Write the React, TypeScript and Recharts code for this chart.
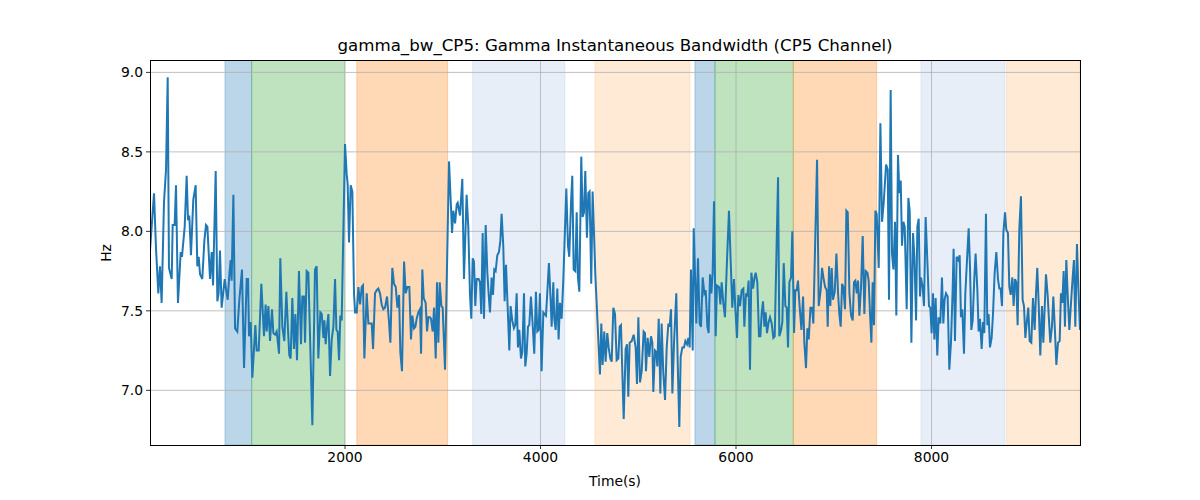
import React from "react";
import { LineChart, Line, XAxis, YAxis, ReferenceArea, ReferenceLine } from "recharts";

// Time (s), Hz pairs, split into segments
const segA: [number, number][] = [
  [5,7.88],[46,8.24],[66,7.90],[90,7.61],[107,7.78],[124,7.55],[148,8.18],[169,8.39],[186,8.97],[199,7.77],
  [227,7.70],[237,8.04],[257,8.04],[271,8.29],[291,7.55],[319,7.87],[332,7.84],[360,8.03],[380,8.35],[394,8.07],
  [407,8.10],[424,7.85],[448,8.20],[472,8.29],[489,7.78],[503,7.84],[517,7.73],[540,7.70],[561,7.94],[578,8.04],
  [592,8.03],[619,7.70],[636,7.87],[650,7.66],[677,8.38],[694,7.56],[707,7.61],[721,7.88],[738,7.52],[769,7.70],
  [789,7.61],[800,7.57],[817,7.73],[830,7.82],[840,7.69],[858,8.23],[875,7.39],[898,7.37],[919,7.57],[946,7.76],
  [967,7.14],[994,7.70],[1008,7.70],[1018,7.34],[1035,7.43],[1052,7.08],[1083,7.41],[1096,7.25],[1117,7.25],[1144,7.67],
  [1171,7.34],[1188,7.54],[1199,7.37],[1216,7.53],[1233,7.31],[1253,7.51],[1267,7.36],[1284,7.35],[1301,7.37],[1325,7.23],
  [1338,7.83],[1359,7.40],[1379,7.31],[1400,7.62],[1417,7.38],[1430,7.22],[1444,7.20],[1461,7.58],[1478,7.26],[1492,7.48],
  [1509,7.19],[1529,7.75],[1550,7.29],[1563,7.59],[1580,7.59],
];
const segB: [number, number][] = [
  [1591,7.30],[1608,7.75],[1625,7.74],[1666,6.78],[1693,7.76],[1710,7.78],[1727,7.20],[1748,7.49],[1762,7.48],[1779,7.33],
  [1789,7.44],[1802,7.29],[1816,7.40],[1830,7.48],[1847,7.09],[1864,7.32],[1881,7.40],[1898,7.70],[1912,7.38],[1925,7.37],
  [1939,7.19],[1952,7.47],[1966,7.44],[2000,8.55],[2017,8.36],[2027,8.30],[2041,7.93],[2058,8.29],[2075,8.25],[2092,7.61],
  [2103,7.49],[2120,7.49],[2137,7.65],[2154,7.54],[2171,7.65],[2184,7.66],[2198,7.20],[2222,7.61],[2239,7.42],[2256,7.42],
  [2273,7.42],[2287,7.26],[2307,7.61],[2324,7.63],[2341,7.64],[2358,7.61],[2375,7.54],[2392,7.51],[2409,7.52],[2430,7.59],
  [2450,7.43],[2464,7.30],[2484,7.77],[2501,7.67],[2519,7.65],[2536,7.52],[2553,7.60],[2566,7.24],[2583,7.12],[2604,7.81],
  [2621,7.61],[2638,7.65],[2658,7.65],[2675,7.32],[2689,7.47],[2706,7.39],[2720,7.40],[2733,7.45],[2750,7.49],[2767,7.51],
  [2778,7.23],[2791,7.76],[2805,7.58],[2825,7.55],[2839,7.37],[2853,7.46],[2870,7.46],[2880,7.45],[2897,7.37],[2911,7.52],
  [2928,7.20],[2941,7.68],[2955,7.30],[2969,7.68],[2986,7.53],[2999,7.52],[3023,7.13],[3064,8.44],[3078,8.24],[3095,7.99],
  [3108,8.13],[3126,8.05],[3143,8.17],[3153,8.18],
];
const segC: [number, number][] = [
  [3176,8.10],[3200,8.33],[3217,7.70],[3244,8.23],[3261,8.03],[3278,7.61],[3292,7.45],[3306,7.83],[3319,7.81],[3333,7.53],
  [3347,7.70],[3367,7.70],[3381,7.68],[3394,7.48],[3408,7.99],[3422,7.45],[3439,8.04],[3456,7.74],[3469,7.61],[3483,7.49],
  [3500,7.71],[3514,7.60],[3527,7.76],[3541,7.75],[3558,7.85],[3575,7.87],[3589,7.94],[3602,8.11],[3619,7.91],[3633,7.56],
  [3647,7.79],[3664,7.52],[3681,7.25],[3694,7.53],[3711,7.44],[3728,7.39],[3742,7.41],[3756,7.61],[3769,7.27],[3783,7.38],
  [3800,7.20],[3814,7.24],[3831,7.61],[3844,7.15],[3858,7.23],[3872,7.40],[3885,7.41],[3902,7.59],[3919,7.42],[3936,7.23],
  [3953,7.62],[3967,7.37],[3981,7.38],[3994,7.61],[4011,7.12],[4029,7.49],[4042,7.48],[4056,7.47],[4069,7.61],[4086,7.80],
  [4104,7.56],[4114,7.40],[4131,7.68],[4141,7.45],[4155,7.38],[4172,7.64],[4185,7.32],[4199,7.55],[4216,7.45],[4233,7.69],
  [4264,8.27],[4281,7.91],[4294,7.84],[4312,8.18],[4325,8.35],[4339,7.76],[4356,7.75],[4370,8.12],[4383,7.71],[4397,7.62],
  [4417,8.47],[4431,8.09],[4445,8.12],[4458,8.38],[4475,7.96],[4489,8.24],[4502,8.25],[4519,7.67],[4533,8.25],[4547,7.99],
  [4560,7.74],[4608,7.10],[4622,7.42],[4635,7.16],[4652,7.37],[4666,7.18],[4683,7.36],[4697,7.27],[4714,7.20],[4728,7.18],
  [4745,7.52],
];
const segD: [number, number][] = [
  [4762,7.48],[4779,7.19],[4796,7.20],[4810,7.40],[4823,7.41],[4851,6.82],[4871,7.26],[4885,7.29],[4898,6.96],[4912,7.30],
  [4933,7.31],[4953,7.35],[4973,7.27],[4987,7.04],[5001,7.46],[5018,7.05],[5035,7.12],[5055,7.37],[5069,7.36],[5079,7.12],
  [5096,7.33],[5113,7.21],[5130,7.34],[5144,7.30],[5154,6.99],[5171,7.25],[5185,7.24],[5195,7.15],[5209,7.45],[5226,6.98],
  [5239,7.42],[5256,7.11],[5274,6.94],[5291,7.27],[5308,7.42],[5321,7.40],[5335,7.51],[5349,6.98],[5366,7.30],[5389,7.61],
  [5403,7.19],[5420,6.77],[5434,7.21],[5451,7.27],[5468,7.27],[5482,7.31],[5499,7.29],[5512,7.33],[5526,7.27],[5539,7.76],
  [5557,7.25],[5567,8.02],[5580,7.74],[5594,7.42],[5611,7.83],[5628,7.42],[5642,7.40],[5659,7.71],[5676,7.61],[5690,7.63],
  [5707,7.40],[5720,7.36],[5734,7.73],[5748,7.61],[5761,7.74],[5775,8.19],[5792,7.34],[5805,7.66],[5826,7.65],[5840,7.54],
  [5853,7.68],[5870,7.55],[5887,7.46],[5908,7.82],[5928,8.13],[5945,7.82],[5962,7.52],[5979,7.70],[5993,7.52],[6010,7.33],
  [6024,7.60],[6041,7.53],[6058,7.63],[6075,7.64],[6085,7.40],[6102,7.61],[6116,7.59],[6129,7.69],[6143,7.13],[6157,7.74],
  [6174,7.64],[6187,7.70],[6201,7.74],[6218,7.68],[6235,7.34],[6249,7.34],[6262,7.48],[6276,7.56],[6290,7.40],[6303,7.49],
  [6317,7.36],[6334,7.43],
];
const segE: [number, number][] = [
  [6348,7.46],[6365,7.42],[6382,7.33],[6396,7.34],[6430,8.34],[6443,7.34],[6461,7.38],[6474,7.43],[6488,7.80],[6505,7.53],
  [6519,7.52],[6532,7.27],[6546,7.68],[6563,7.71],[6576,8.00],[6594,7.36],[6607,7.63],[6621,7.63],[6634,7.69],[6648,7.55],
  [6669,7.38],[6686,7.59],[6699,7.30],[6716,7.14],[6730,7.39],[6744,7.32],[6761,7.52],[6778,7.52],[6791,7.42],[6829,8.45],
  [6846,7.53],[6866,7.63],[6880,7.77],[6894,7.71],[6911,7.65],[6928,7.63],[6938,7.40],[6952,7.78],[6965,7.53],[6979,7.77],
  [6992,7.57],[7010,7.62],[7027,7.86],[7044,7.61],[7057,7.48],[7071,7.40],[7085,7.67],[7098,7.65],[7115,7.51],[7129,8.13],
  [7143,8.12],[7160,7.61],[7177,7.47],[7194,7.44],[7207,7.68],[7221,7.69],[7235,7.61],[7248,7.69],[7262,7.47],[7279,7.65],
  [7296,7.97],[7313,7.48],[7327,7.75],[7344,7.74],[7357,7.69],[7371,7.48],[7385,7.30],[7398,7.68],[7412,7.41],[7426,8.13],
  [7439,8.11],[7460,7.77],[7477,8.68],[7494,8.06],[7511,8.18],[7535,8.42],[7552,8.39],[7565,7.57],[7582,8.89],[7596,7.86],
  [7610,7.76],[7627,8.06],[7640,7.47],[7657,8.48],[7671,8.24],[7685,8.32],[7698,7.91],[7712,8.06],[7726,8.03],[7746,7.51],
  [7763,8.21],[7777,8.13],[7794,7.30],[7811,7.99],[7825,7.84],[7842,7.44],[7855,8.03],[7869,8.08],
];
const segF: [number, number][] = [
  [7882,7.59],[7892,7.71],[7909,7.65],[7923,7.53],[7940,8.09],[7957,7.82],[7974,7.53],[7988,7.52],[8001,7.36],[8015,7.61],
  [8029,7.32],[8042,7.58],[8059,7.22],[8073,7.46],[8090,7.42],[8107,7.71],[8121,7.42],[8134,7.57],[8148,7.61],[8165,7.59],
  [8182,7.13],[8199,7.30],[8216,7.63],[8226,7.89],[8240,7.31],[8257,7.84],[8274,7.82],[8288,7.85],[8301,7.46],[8315,7.51],
  [8332,7.23],[8346,7.61],[8363,7.82],[8380,8.02],[8394,7.77],[8407,7.38],[8421,7.44],[8438,7.71],[8451,7.86],[8469,7.63],
  [8482,7.37],[8496,7.45],[8513,7.26],[8527,7.43],[8540,7.36],[8557,8.11],[8571,7.41],[8584,7.48],[8598,7.27],[8615,7.33],
  [8629,7.48],[8646,7.74],[8663,7.87],[8680,7.70],[8694,7.64],[8707,7.64],[8721,7.53],[8735,7.99],[8752,8.12],[8765,8.01],
  [8782,7.99],[8796,7.65],[8810,7.60],[8827,7.71],[8840,7.53],[8854,7.70],[8867,7.68],[8881,7.41],[8898,8.01],[8915,8.22],
  [8932,7.57],[8946,7.53],[8960,7.33],[8973,7.42],[8990,7.52],[9004,7.31],[9021,7.30],[9038,7.58],[9055,7.38],[9069,7.61],
  [9082,7.77],[9096,7.55],[9113,7.22],[9130,7.53],[9144,7.30],[9161,7.57],[9171,7.73],[9188,7.60],[9202,7.44],[9215,7.30],
  [9232,7.40],[9246,7.59],[9263,7.37],[9277,7.16],[9294,7.30],[9311,7.31],[9324,7.61],[9338,7.55],[9352,7.75],[9365,7.40],
  [9379,7.82],[9396,7.56],[9410,7.38],[9427,7.55],[9444,7.71],[9457,7.82],[9471,7.40],[9488,7.92],[9502,7.65],[9519,7.38],
];

// Shaded phases
const spanStart = [772, 1045, 2120, 3306, 4557, 5580, 5785, 6586, 7892, 8769];
const spanEnd = [1045, 1995, 3050, 4250, 5529, 5785, 6586, 7439, 8752, 9519];
const spanKind = ["blue", "green", "orange", "lightblue", "lightorange", "blue", "green", "orange", "lightblue", "lightorange"];

const xTicks = [2000, 4000, 6000, 8000];
const yTicks = [7.0, 7.5, 8.0, 8.5, 9.0];
const xDomain: [number, number] = [5, 9519];
const yDomain: [number, number] = [6.656, 9.078];

const kindColor: Record<string, string> = {
  blue: "#1f77b4",
  green: "#2ca02c",
  orange: "#ff7f0e",
  lightblue: "#aec7e8",
  lightorange: "#ffbb78",
};

const data = [...segA, ...segB, ...segC, ...segD, ...segE, ...segF].map(([t, hz]) => ({ t, hz }));

const FONT = "'DejaVu Sans', sans-serif";
const TICK_FS = 13.89;
const GRID = "#b0b0b0";

export default function App() {
  return (
    <div style={{ position: "absolute", left: 0, top: 0, width: 1200, height: 500, background: "#fff", fontFamily: FONT }}>
      <LineChart
        width={1200}
        height={500}
        data={data}
        margin={{ top: 60, right: 120, bottom: 25, left: 90 }}
      >
        {spanStart.map((s, i) => (
          <ReferenceArea
            key={"a" + i}
            x1={s}
            x2={spanEnd[i]}
            ifOverflow="hidden"
            fill={kindColor[spanKind[i]]}
            fillOpacity={0.3}
            stroke={kindColor[spanKind[i]]}
            strokeOpacity={0.3}
          />
        ))}
        {xTicks.map((v) => (
          <ReferenceLine key={"gx" + v} x={v} stroke={GRID} strokeWidth={0.8} />
        ))}
        {yTicks.map((v) => (
          <ReferenceLine key={"gy" + v} y={v} stroke={GRID} strokeWidth={0.8} />
        ))}
        <XAxis
          dataKey="t"
          type="number"
          domain={xDomain}
          ticks={xTicks}
          allowDataOverflow
          height={30}
          axisLine={false}
          tickLine={{ stroke: "#000", strokeWidth: 0.8 }}
          tickSize={4}
          tickMargin={3}
          tick={{ fill: "#000", fontSize: TICK_FS, fontFamily: FONT }}
        />
        <YAxis
          type="number"
          domain={yDomain}
          ticks={yTicks}
          allowDataOverflow
          width={60}
          axisLine={false}
          tickLine={{ stroke: "#000", strokeWidth: 0.8 }}
          tickSize={4}
          tickMargin={3}
          tickFormatter={(v: number) => v.toFixed(1)}
          tick={{ fill: "#000", fontSize: TICK_FS, fontFamily: FONT }}
        />
        <Line
          type="linear"
          dataKey="hz"
          stroke="#1f77b4"
          strokeWidth={2}
          dot={false}
          isAnimationActive={false}
        />
      </LineChart>
      <div
        style={{
          position: "absolute",
          left: 150,
          top: 60,
          width: 931,
          height: 386,
          boxSizing: "border-box",
          border: "1px solid #000",
          pointerEvents: "none",
        }}
      />
      <div
        style={{
          position: "absolute",
          left: 150,
          width: 930,
          top: 36,
          height: 20,
          lineHeight: "20px",
          textAlign: "center",
          fontSize: 16.67,
          color: "#000",
          whiteSpace: "nowrap",
        }}
      >
        gamma_bw_CP5: Gamma Instantaneous Bandwidth (CP5 Channel)
      </div>
      <div
        style={{
          position: "absolute",
          left: 150,
          width: 930,
          top: 472,
          height: 18,
          lineHeight: "18px",
          textAlign: "center",
          fontSize: TICK_FS,
          color: "#000",
        }}
      >
        Time(s)
      </div>
      <div
        style={{
          position: "absolute",
          left: 106 - 30,
          top: 253 - 9,
          width: 60,
          height: 18,
          lineHeight: "18px",
          textAlign: "center",
          fontSize: TICK_FS,
          color: "#000",
          transform: "rotate(-90deg)",
        }}
      >
        Hz
      </div>
    </div>
  );
}
